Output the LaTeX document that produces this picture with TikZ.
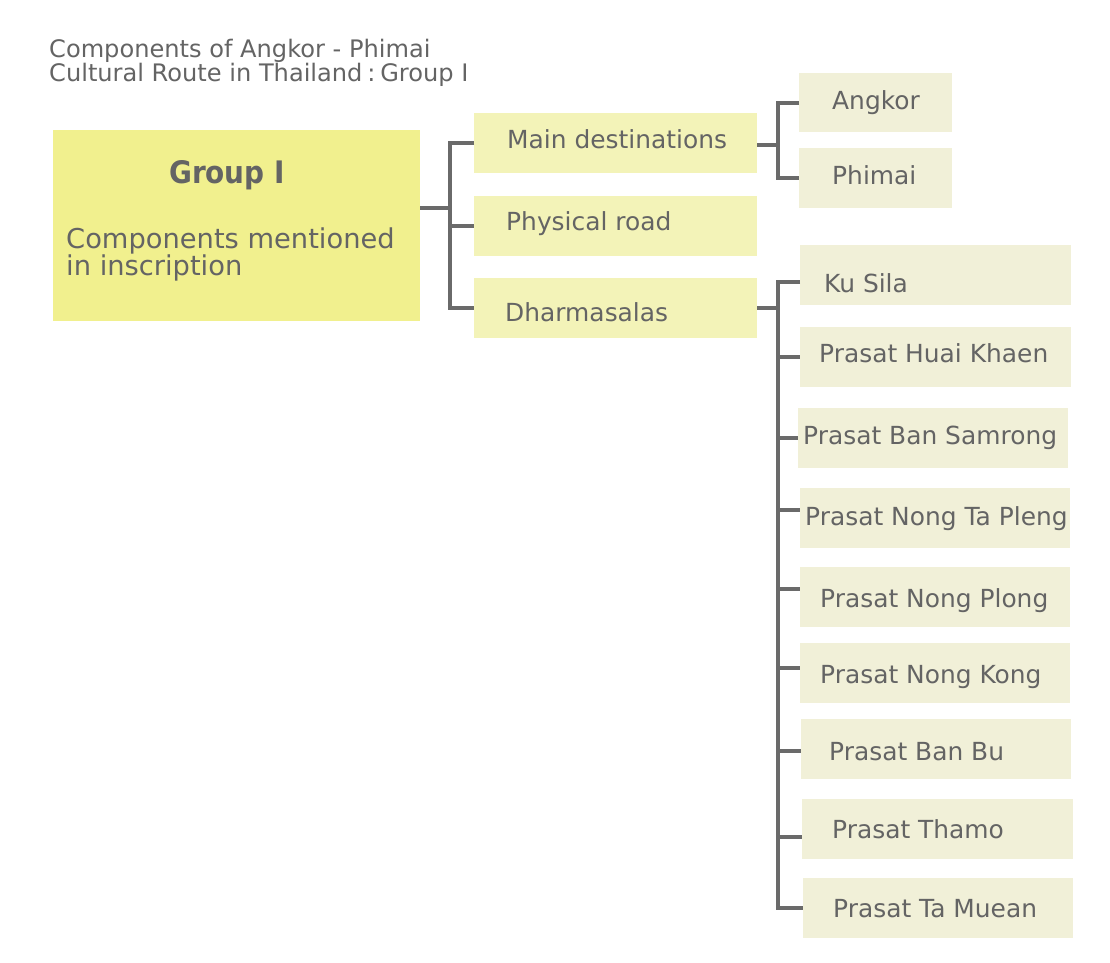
\documentclass[tikz,border=0pt]{standalone}
\usepackage{fontspec}
\setmainfont{DejaVu Sans}
\newfontfamily\grpfont{DejaVu Sans Condensed}
\definecolor{grpc}{HTML}{F1F08E}
\definecolor{lonec}{HTML}{F3F3B8}
\definecolor{ltwoc}{HTML}{F1F0D8}
\definecolor{txtc}{HTML}{646464}
\definecolor{linec}{HTML}{6A6A6A}
\tikzset{
  boxbase/.style={draw=none, inner sep=0pt, anchor=north west},
  grpbox/.style={boxbase, fill=grpc},
  lone/.style={boxbase, fill=lonec},
  ltwo/.style={boxbase, fill=ltwoc},
  lbl/.style={anchor=base west, inner sep=0pt, text=txtc, font=\fontsize{24.9}{29}\selectfont},
  ttl/.style={anchor=base west, inner sep=0pt, text=txtc, font=\fontsize{24.1}{25}\selectfont},
  conn/.style={draw=linec, line width=3.6pt}
}
% name, style, x, ytop, w, h, text x, baseline, text
\newcommand{\bx}[9]{%
  \node[#2, minimum width=#5pt, minimum height=#6pt] (#1) at (#3,#4) {};
  \node[lbl] (#1t) at (#7,#8) {#9};}
\begin{document}
\begin{tikzpicture}[x=1pt,y=-1pt]
\useasboundingbox[fill=white] (0,0) rectangle (1110,962);

% title
\node[ttl] (title1) at (49,57) {Components of Angkor - Phimai};
\node[ttl] (title2) at (49,81) {Cultural Route in Thailand\hspace{0.2em}:\hspace{0.2em}Group I};

% group box
\node[grpbox, minimum width=367pt, minimum height=191pt] (grp) at (53,130) {};
\node[anchor=base, inner sep=0pt, text=txtc, font=\grpfont\bfseries\fontsize{31}{33}\selectfont] (grpt) at (227,183) {Group I};
\node[lbl, font=\fontsize{27.3}{28}\selectfont] (grpa) at (66,248) {Components mentioned};
\node[lbl, font=\fontsize{27.3}{28}\selectfont] (grpb) at (66,275) {in inscription};

% level 1
\bx{main}{lone}{474}{113}{283}{60}{507}{148}{Main destinations}
\bx{road}{lone}{474}{196}{283}{60}{506}{230}{Physical road}
\bx{dharma}{lone}{474}{278}{283}{60}{505}{321}{Dharmasalas}

% level 2 (main destinations)
\bx{angkor}{ltwo}{799}{73}{153}{59}{832}{109}{Angkor}
\bx{phimai}{ltwo}{799}{148}{153}{60}{832}{184}{Phimai}

% level 2 (dharmasalas)
\bx{d1}{ltwo}{800}{245}{271}{60}{824}{292}{Ku Sila}
\bx{d2}{ltwo}{800}{327}{271}{60}{819}{362}{Prasat Huai Khaen}
\bx{d3}{ltwo}{798}{408}{270}{60}{803}{444}{Prasat Ban Samrong}
\bx{d4}{ltwo}{800}{488}{270}{60}{805}{525}{Prasat Nong Ta Pleng}
\bx{d5}{ltwo}{800}{567}{270}{60}{820}{607}{Prasat Nong Plong}
\bx{d6}{ltwo}{800}{643}{270}{60}{820}{683}{Prasat Nong Kong}
\bx{d7}{ltwo}{801}{719}{270}{60}{829}{760}{Prasat Ban Bu}
\bx{d8}{ltwo}{802}{799}{271}{60}{832}{838}{Prasat Thamo}
\bx{d9}{ltwo}{803}{878}{270}{60}{833}{917}{Prasat Ta Muean}

% connectors: group -> level 1
\coordinate (gj) at (450,208);
\draw[conn] (grp.east |- gj) -- (gj);
\draw[conn] (main.west) -- (main.west -| gj) -- (dharma.west -| gj) -- (dharma.west);
\draw[conn] (road.west -| gj) -- (road.west);

% main -> angkor / phimai
\coordinate (mj) at (778,145);
\draw[conn] (main.east |- mj) -- (mj);
\draw[conn] (angkor.west) -- (angkor.west -| mj) -- (phimai.west -| mj) -- (phimai.west);

% dharmasalas -> list
\coordinate (dj) at (778,308);
\draw[conn] (dharma.east |- dj) -- (dj);
\coordinate (b1) at (778,282);
\coordinate (b2) at (778,357);
\coordinate (b3) at (778,438);
\coordinate (b4) at (778,510);
\coordinate (b5) at (778,589);
\coordinate (b6) at (778,668);
\coordinate (b7) at (778,751);
\coordinate (b8) at (778,837);
\coordinate (b9) at (778,908);
\draw[conn] (b1 -| d1.west) -- (b1) -- (b9) -- (b9 -| d9.west);
\foreach \i in {2,...,8} {\draw[conn] (b\i) -- (b\i -| d\i.west);}
\end{tikzpicture}
\end{document}
